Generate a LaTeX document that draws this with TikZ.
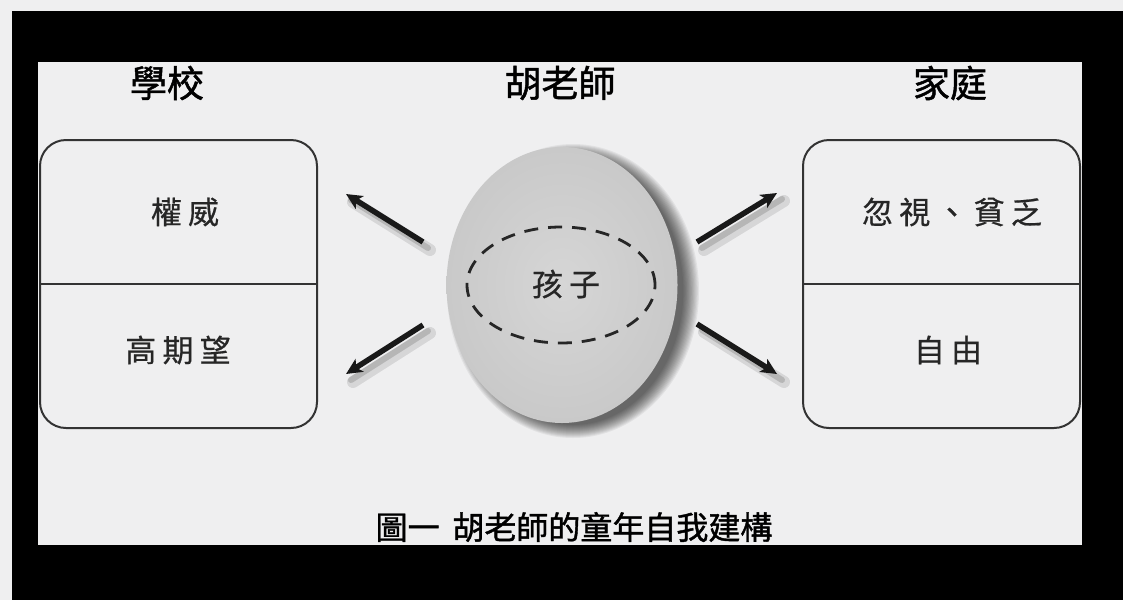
\documentclass[tikz,border=0pt]{standalone}
\usepackage{fontspec}
\newfontfamily\cjkt[FakeBold=1.3]{Noto Sans CJK TC}
\newfontfamily\cjkls[LetterSpace=20,FakeBold=0.6]{Noto Sans CJK TC}
\usetikzlibrary{arrows.meta,calc,shapes.geometric}
\definecolor{paper}{HTML}{EFEFF0}
\definecolor{edge}{HTML}{333333}
\definecolor{eggin}{HTML}{D6D6D6}
\definecolor{eggout}{HTML}{C9C9C9}
\tikzset{
  title/.style={font=\cjkt\fontsize{37}{40}\selectfont, text=black, inner sep=0pt},
  label/.style={font=\cjkls\fontsize{31}{34}\selectfont, text=black!85, inner sep=0pt},
  caption/.style={font=\cjkt\fontsize{32}{36}\selectfont, text=black, inner sep=0pt},
  panelbox/.style={draw=edge, line width=2pt, rounded corners=26pt, minimum width=277pt, minimum height=288pt, inner sep=0pt},
  arrowline/.style={line width=5.5pt, black!90, -{Stealth[length=16pt, width=15pt, inset=4pt]}},
  arrowshade/.style={line width=12pt, black, opacity=0.10, line cap=round},
  arrowshadecore/.style={line width=6pt, black, opacity=0.15, line cap=round},
  softshadow/.style={fill=black, opacity=0.055, draw=none}
}
\begin{document}
\begin{tikzpicture}[x=1pt,y=-1pt]
\useasboundingbox (0,0) rectangle (1123,600);
\fill[paper] (0,0) rectangle (1123,600);
\fill[black] (12,11) rectangle (1123,600);
\fill[paper] (38,62) rectangle (1082,545);

% titles
\node[title] (school) at (167,83) {學校};
\node[title] (teacher) at (560,83) {胡老師};
\node[title] (home) at (950,83) {家庭};

% boxes
\node[panelbox] (left) at (178.5,284) {};
\draw[edge, line width=2pt] (left.west) -- (left.east);
\node[panelbox] (right) at (941.5,284) {};
\draw[edge, line width=2pt] (right.west) -- (right.east);

\node[label] (auth) at (185,212) {權威};
\node[label] (expect) at (178,350) {高期望};
\node[label] (neglect) at (952,212) {忽視、貧乏};
\node[label] (free) at (948,350) {自由};

% soft shadow of the child ellipse
\foreach \i in {0,...,13}{
  \fill[softshadow] (573,291) ellipse [x radius={126-1.2*\i}, y radius={147-1.0*\i}];
}
% child ellipse
\node[ellipse, minimum width=231pt, minimum height=276pt, inner color=eggin, outer color=eggout] (egg) at (562,285) {};
\node[ellipse, draw=black!85, line width=2.8pt, dash pattern=on 14pt off 10pt, minimum width=188pt, minimum height=116pt] (inner) at (561,285) {};
\node[label] (child) at (566,284) {孩子};

% arrows
\coordinate (ulA) at (423,242);
\coordinate (ulB) at (346,194);
\coordinate (llA) at (423,325);
\coordinate (llB) at (346,374);
\coordinate (urA) at (697,242);
\coordinate (urB) at (777,193);
\coordinate (lrA) at (697,324);
\coordinate (lrB) at (777,374);

\foreach \a/\b in {ulA/ulB, llA/llB, urA/urB, lrA/lrB}{
  \draw[arrowshade] ($(\a)+(7,8)$) -- ($(\b)+(7,8)$);
  \draw[arrowshadecore] ($(\a)+(5,6)$) -- ($(\b)+(5,6)$);
}
\draw[arrowline] (ulA) -- (ulB);
\draw[arrowline] (llA) -- (llB);
\draw[arrowline] (urA) -- (urB);
\draw[arrowline] (lrA) -- (lrB);

% caption
\node[caption] (cap) at (574,527) {圖一\hspace{0.4em}胡老師的童年自我建構};
\end{tikzpicture}
\end{document}
